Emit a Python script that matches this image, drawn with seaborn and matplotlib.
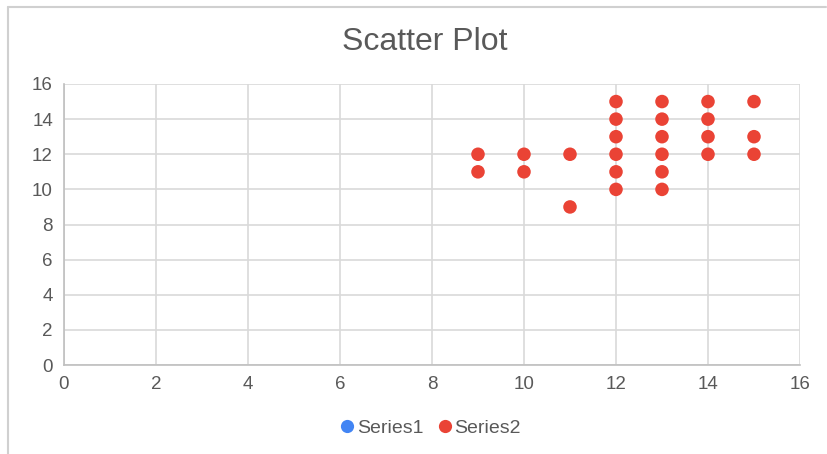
import matplotlib
matplotlib.use("Agg")
import matplotlib.pyplot as plt
from matplotlib.lines import Line2D
import seaborn as sns
import pandas as pd

# Series 1 has no points; Series 2 holds all observations
series1_x = []
series1_y = []
series2_x = [9, 9, 10, 10, 11, 11,
             12, 12, 12, 12, 12, 12,
             13, 13, 13, 13, 13, 13,
             14, 14, 14, 14,
             15, 15, 15]
series2_y = [12, 11, 12, 11, 12, 9,
             15, 14, 13, 12, 11, 10,
             15, 14, 13, 12, 11, 10,
             15, 14, 13, 12,
             15, 13, 12]
series_names = ["Series1", "Series2"]
series_colors = ["#4285F4", "#EA4335"]
x_ticks = [0, 2, 4, 6, 8, 10, 12, 14, 16]
y_ticks = [0, 2, 4, 6, 8, 10, 12, 14, 16]

sns.set_theme(style="white")
plt.rcParams["font.family"] = ["Liberation Sans", "DejaVu Sans"]

text_color = "#595959"
grid_color = "#D9D9D9"

fig = plt.figure(figsize=(8.28, 4.54), dpi=100)
ax = fig.add_axes([64 / 828, 1 - 365 / 454, 736 / 828, 281 / 454])

df1 = pd.DataFrame({"x": series1_x, "y": series1_y})
df2 = pd.DataFrame({"x": series2_x, "y": series2_y})
if len(df1):
    sns.scatterplot(data=df1, x="x", y="y", ax=ax, color=series_colors[0],
                    s=95, edgecolor="none", zorder=3)
sns.scatterplot(data=df2, x="x", y="y", ax=ax, color=series_colors[1],
                s=95, edgecolor="none", zorder=3)

ax.set_xlim(0, 16)
ax.set_ylim(0, 16)
ax.set_xticks(x_ticks)
ax.set_yticks(y_ticks)
ax.set_xlabel("")
ax.set_ylabel("")
ax.grid(True, color=grid_color, linewidth=1.2)
ax.set_axisbelow(True)
for side in ["top", "right"]:
    ax.spines[side].set_visible(False)
for side in ["left", "bottom"]:
    ax.spines[side].set_color("#BFBFBF")
    ax.spines[side].set_linewidth(1.2)
ax.tick_params(axis="both", length=0, labelsize=13.5, colors=text_color, pad=8)

fig.text(425 / 828, 1 - 42 / 454, "Scatter Plot", ha="center", va="center",
         fontsize=23, color=text_color)

handles = [Line2D([0], [0], marker="o", linestyle="none", markersize=9.5,
                  markerfacecolor=c, markeredgecolor="none") for c in series_colors]
fig.legend(handles, series_names, loc="center", bbox_to_anchor=(429 / 828, 1 - 428 / 454),
           ncol=2, frameon=False, fontsize=14, labelcolor=text_color,
           handletextpad=0.0, columnspacing=0.6, handlelength=1.0)

# light outer frame of the chart
frame_kw = dict(color="#D0D0D0", linewidth=1.5, transform=fig.transFigure)
fig.add_artist(Line2D([8 / 828, 8 / 828], [0, 1 - 7 / 454], **frame_kw))
fig.add_artist(Line2D([8 / 828, 826 / 828], [1 - 7 / 454, 1 - 7 / 454], **frame_kw))

fig.savefig("out.png", dpi=100)
